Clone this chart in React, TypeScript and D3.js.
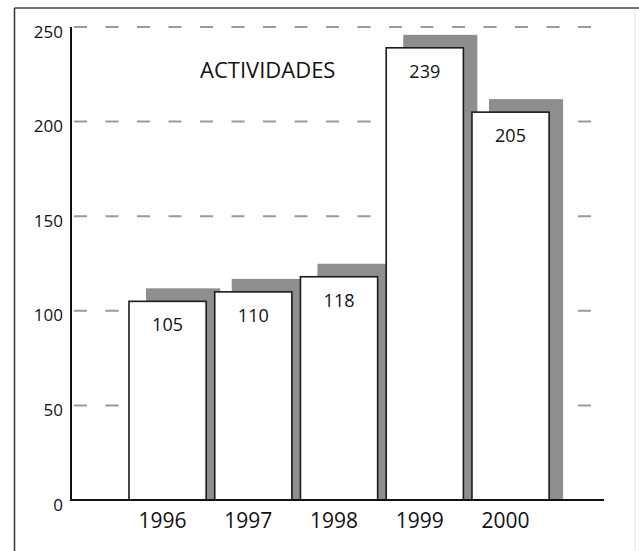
import React from "react";
import * as d3 from "d3";

const years = ["1996", "1997", "1998", "1999", "2000"];
const values = [105, 110, 118, 239, 205];
const yTicks = [0, 50, 100, 150, 200, 250];
const gridTicks = [50, 100, 150, 200, 250];
const title = "ACTIVIDADES";

const W = 639;
const H = 551;
const FONT = "'Open Sans', 'DejaVu Sans', sans-serif";

export default function App() {
  const y = d3.scaleLinear().domain([0, 250]).range([500, 27]);
  const x = d3
    .scaleBand<string>()
    .domain(years)
    .range([124.7, 553.4])
    .paddingInner(0.1)
    .paddingOuter(0.05);
  const bw = x.bandwidth();
  const axisX = 71;
  const baseY = y(0);

  return (
    <svg
      width={W}
      height={H}
      viewBox={`0 0 ${W} ${H}`}
      style={{ position: "absolute", left: 0, top: 0, background: "#fff" }}
    >
      <rect x={0} y={0} width={W} height={H} fill="#fff" />
      {/* frame */}
      <line x1={14.5} y1={8} x2={W} y2={8} stroke="#444" strokeWidth={1.5} />
      <line x1={14.5} y1={8} x2={14.5} y2={H} stroke="#333" strokeWidth={1.5} />
      <line x1={635} y1={10} x2={635} y2={H} stroke="#e2e2e2" strokeWidth={1} />

      {/* gridlines */}
      {gridTicks.map((t) => (
        <line
          key={"g" + t}
          x1={74}
          x2={599}
          y1={y(t)}
          y2={y(t)}
          stroke="#9a9a9a"
          strokeWidth={2}
          strokeDasharray="13 18.5"
        />
      ))}

      {/* shadows */}
      {years.map((yr, i) => {
        const bx = x(yr)!;
        const top = y(values[i]) - 13;
        return (
          <rect
            key={"s" + yr}
            x={bx + 17}
            y={top}
            width={bw - 3}
            height={baseY - top}
            fill="#8e8e8e"
          />
        );
      })}

      {/* bars */}
      {years.map((yr, i) => {
        const bx = x(yr)!;
        const top = y(values[i]);
        return (
          <rect
            key={"b" + yr}
            x={bx}
            y={top}
            width={bw}
            height={baseY - top}
            fill="#fff"
            stroke="#1a1a1a"
            strokeWidth={1.6}
          />
        );
      })}

      {/* value labels */}
      {years.map((yr, i) => (
        <text
          key={"v" + yr}
          x={x(yr)! + bw / 2}
          y={y(values[i]) + 30}
          textAnchor="middle"
          fontFamily={FONT}
          fontSize={18}
          fill="#111"
        >
          {values[i]}
        </text>
      ))}

      {/* axes */}
      <line x1={axisX} y1={y(250)} x2={axisX} y2={baseY + 1} stroke="#111" strokeWidth={2} />
      <line x1={axisX} y1={baseY} x2={604} y2={baseY} stroke="#111" strokeWidth={2} />

      {/* y tick labels */}
      {yTicks.map((t) => (
        <text
          key={"t" + t}
          x={63}
          y={y(t) + 10.5}
          textAnchor="end"
          fontFamily={FONT}
          fontSize={17}
          fill="#111"
        >
          {t}
        </text>
      ))}

      {/* year labels */}
      {years.map((yr) => (
        <text
          key={"x" + yr}
          x={x(yr)! + bw / 2 - 5}
          y={528}
          textAnchor="middle"
          fontFamily={FONT}
          fontSize={21}
          fill="#111"
        >
          {yr}
        </text>
      ))}

      {/* title */}
      <text x={200} y={78} fontFamily={FONT} fontSize={22} fill="#111">
        {title}
      </text>
    </svg>
  );
}
